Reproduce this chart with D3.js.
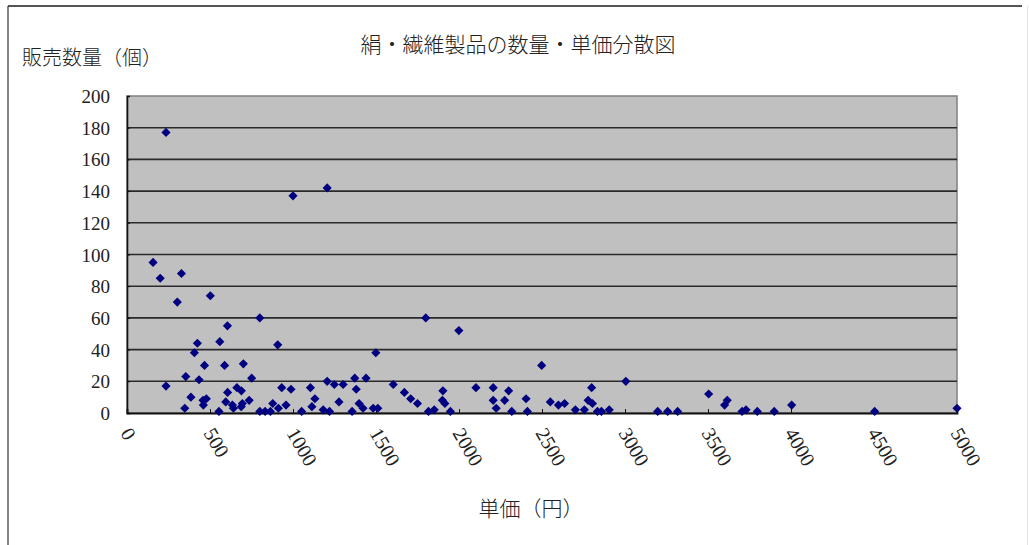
<!DOCTYPE html>
<html><head><meta charset="utf-8">
<script src="https://cdn.jsdelivr.net/npm/d3@7"></script>
<style>
html,body{margin:0;padding:0;background:#fff;}
svg{display:block;}
</style></head>
<body>
<script>
// ---- data ----
const title = "絹・繊維製品の数量・単価分散図";
const yTitle = "販売数量（個）";
const xTitle = "単価（円）";
const xTicks = [0,500,1000,1500,2000,2500,3000,3500,4000,4500,5000];
const yTicks = [0,20,40,60,80,100,120,140,160,180,200];
const unitPrice = [
 157,200,235,235,303,328,348,354,385,406,424,434,458,478,460,467,502,554,559,588,
 595,605,606,635,641,662,689,688,695,701,736,751,800,800,832,864,878,908,912,932,
 958,988,1000,
 1052,1105,1114,1132,1182,1206,1206,1220,1249,1277,1302,1356,1372,1381,1398,1422,1440,1483,1511,1499,
 1604,1671,1709,1750,1800,1816,1851,1903,1900,1915,1948,1999,
 2102,2206,2206,2224,2275,2299,2318,2404,2412,2498,2550,2599,2636,2701,2755,2799,2778,2804,2834,2858,2905,3005,
 3197,3257,3317,3504,3600,3616,3705,3729,3797,3899,4004,4504,5000
];
const quantity = [
 95,85,177,17,70,88,3,23,10,38,44,21,8,9,5,30,74,1,45,30,
 7,55,13,5,3,16,14,4,6,31,8,22,60,1,1,1,6,43,3,16,
 5,15,137,
 1,16,4,9,2,142,20,1,18,7,18,1,22,15,6,3,22,3,3,38,
 18,13,9,6,60,1,2,14,8,6,1,52,
 16,16,8,3,8,14,1,9,1,30,7,5,6,2,2,16,8,6,1,1,2,20,
 1,1,1,12,5,8,1,2,1,1,5,1,3
];

const W = 1029, H = 545;
const svg = d3.select("body").append("svg").attr("width", W).attr("height", H);

// outer frame
svg.append("line").attr("x1",8).attr("x2",1022).attr("y1",6).attr("y2",6).attr("stroke","#555").attr("stroke-width",2);
svg.append("line").attr("x1",8).attr("x2",8).attr("y1",6).attr("y2",H).attr("stroke","#333").attr("stroke-width",1.2);
svg.append("line").attr("x1",1027.5).attr("x2",1027.5).attr("y1",6).attr("y2",H).attr("stroke","#e4e4e4").attr("stroke-width",1);

const x = d3.scaleLinear().domain([0,5000]).range([127,957]);
const y = d3.scaleLinear().domain([0,200]).range([413,96]);

// plot background
svg.append("rect").attr("x",x(0)).attr("y",y(200)).attr("width",x(5000)-x(0)).attr("height",y(0)-y(200))
  .attr("fill","#c0c0c0").attr("stroke","#808080").attr("stroke-width",1.5);

// gridlines
svg.append("g").selectAll("line").data(yTicks.filter(d=>d>0 && d<200)).join("line")
  .attr("x1",x(0)).attr("x2",x(5000)).attr("y1",d=>y(d)).attr("y2",d=>y(d))
  .attr("stroke","#2a2a2a").attr("stroke-width",1.6);

// y axis
const yAxis = svg.append("g").attr("transform",`translate(${x(0)},0)`)
  .call(d3.axisRight(y).tickValues(yTicks).tickSize(3).tickFormat(""));
yAxis.select(".domain").attr("stroke","#111").attr("stroke-width",1.6);
yAxis.selectAll(".tick line").attr("stroke","#111");
svg.append("g").selectAll("text").data(yTicks).join("text")
  .attr("x",110).attr("y",d=>y(d)+7)
  .attr("text-anchor","end")
  .attr("font-family","'Liberation Serif','DejaVu Serif',serif").attr("font-size",19)
  .attr("fill","#222").text(d=>d);

// x axis
const xAxis = svg.append("g").attr("transform",`translate(0,${y(0)})`)
  .call(d3.axisTop(x).tickValues(xTicks).tickSize(4).tickFormat(""));
xAxis.select(".domain").attr("stroke","#111").attr("stroke-width",1.8);
xAxis.selectAll(".tick line").attr("stroke","#111");
svg.append("g").selectAll("text").data(xTicks).join("text")
  .attr("transform",d=>`translate(${x(d)-7},${y(0)+20}) rotate(60)`)
  .attr("text-anchor","start")
  .attr("font-family","'Liberation Serif','DejaVu Serif',serif").attr("font-size",20)
  .attr("fill","#222").text(d=>d);

// points
const pts = unitPrice.map((p,i)=>({p, q: quantity[i]}));
const sym = d3.symbol().type(d3.symbolSquare).size(42);
svg.append("g").selectAll("path").data(pts).join("path")
  .attr("d", sym)
  .attr("transform", d=>`translate(${x(d.p)},${y(d.q)}) rotate(45)`)
  .attr("fill","#000080");

// titles
const cjk = "'Noto Sans CJK JP','Noto Sans CJK SC',sans-serif";
svg.append("text").attr("x",518).attr("y",52).attr("text-anchor","middle")
  .attr("font-family",cjk).attr("font-size",21).attr("font-weight",300).attr("fill","#222").text(title);
svg.append("text").attr("x",22).attr("y",65).attr("text-anchor","start")
  .attr("font-family",cjk).attr("font-size",20).attr("font-weight",300).attr("fill","#222").text(yTitle);
svg.append("text").attr("x",531).attr("y",516).attr("text-anchor","middle")
  .attr("font-family",cjk).attr("font-size",21).attr("font-weight",300).attr("fill","#222").text(xTitle);
</script>
</body></html>
